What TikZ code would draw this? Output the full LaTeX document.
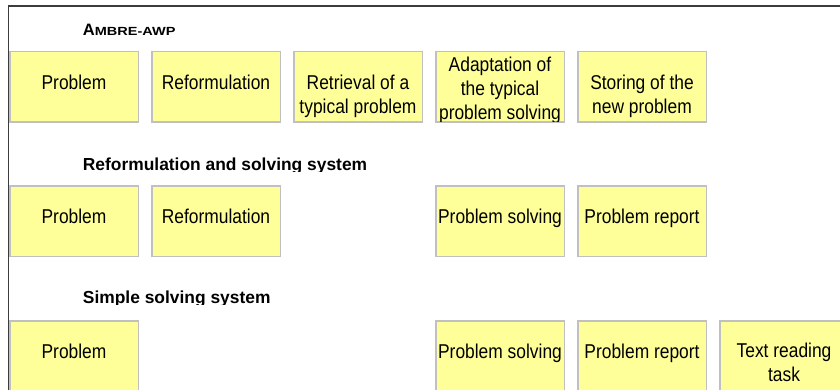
\documentclass[tikz,border=0pt]{standalone}
\usepackage{fontspec}
\setmainfont{Liberation Sans}
\newfontfamily\boxfont[FakeStretch=0.87]{Liberation Sans}
\newfontfamily\scwide[FakeStretch=1.23]{Liberation Sans}
\definecolor{boxfill}{HTML}{FFFF99}
\definecolor{boxline}{HTML}{C0C0C0}
\definecolor{frameline}{HTML}{3C3C3C}
\begin{document}
\begin{tikzpicture}[x=1pt,y=-1pt,
  stepbox/.style={draw=boxline, fill=boxfill, line width=1.5pt,
    minimum width=128.5pt, minimum height=70.5pt, inner sep=0pt,
    outer sep=0pt, anchor=north west},
  boxtext/.style={font=\boxfont\fontsize{20}{24}\selectfont, text=black,
    align=center, inner sep=0pt, anchor=north},
  titletext/.style={font=\bfseries\fontsize{17.4}{20}\selectfont, text=black,
    inner sep=0pt, anchor=base west},
  framestyle/.style={draw=frameline, line width=1.5pt}]
\useasboundingbox (0,0) rectangle (840,389);
\clip (0,0) rectangle (840,389);

% frame
\coordinate (fb) at (8.5,392);
\coordinate (fc) at (8.5,6);
\coordinate (fr) at (842,6);
\draw[framestyle] (fb) -- (fc) -- (fr);

% ---------- row 1 : AMBRE-AWP ----------
\node[titletext] (title1) at (82.7,35)
  {{\fontsize{16.5}{20}\selectfont A}{\scwide\bfseries\fontsize{11.8}{14}\selectfont MBRE-AWP}};

\node[stepbox] (a1) at (9.75,51.25) {};
\node[stepbox] (a2) at (151.75,51.25) {};
\node[stepbox] (a3) at (293.75,51.25) {};
\node[stepbox] (a4) at (435.75,51.25) {};
\node[stepbox] (a5) at (577.75,51.25) {};

\node[boxtext] (ta1) at ([yshift=-23.25pt]a1.north) {Problem};
\node[boxtext] (ta2) at ([yshift=-23.25pt]a2.north) {Reformulation};
\node[boxtext] (ta3) at ([yshift=-23.25pt]a3.north) {Retrieval of a\\typical problem};
\begin{scope}
  \clip ([xshift=0.75pt,yshift=-0.75pt]a4.north west) rectangle ([xshift=-0.75pt,yshift=0.75pt]a4.south east);
  \node[boxtext] (ta4) at ([yshift=-6pt]a4.north) {Adaptation of\\the typical\\problem solving};
\end{scope}
\node[boxtext] (ta5) at ([yshift=-23.25pt]a5.north) {Storing of the\\new problem};

% ---------- row 2 : Reformulation and solving system ----------
\begin{scope}
  \clip (0,130) rectangle (840,171.2);
  \node[titletext] (title2) at (82.7,170) {Reformulation and solving system};
\end{scope}

\node[stepbox] (b1) at (9.75,185.75) {};
\node[stepbox] (b2) at (151.75,185.75) {};
\node[stepbox] (b4) at (435.75,185.75) {};
\node[stepbox] (b5) at (577.75,185.75) {};

\node[boxtext] (tb1) at ([yshift=-23.25pt]b1.north) {Problem};
\node[boxtext] (tb2) at ([yshift=-23.25pt]b2.north) {Reformulation};
\node[boxtext] (tb4) at ([yshift=-23.25pt]b4.north) {Problem solving};
\node[boxtext] (tb5) at ([yshift=-23.25pt]b5.north) {Problem report};

% ---------- row 3 : Simple solving system ----------
\begin{scope}
  \clip (0,270) rectangle (840,304.5);
  \node[titletext] (title3) at (82.7,303.3) {Simple solving system};
\end{scope}

\node[stepbox] (c1) at (9.75,320.75) {};
\node[stepbox] (c4) at (435.75,320.75) {};
\node[stepbox] (c5) at (577.75,320.75) {};
\node[stepbox] (c6) at (719.75,320.75) {};

\node[boxtext] (tc1) at ([yshift=-23.25pt]c1.north) {Problem};
\node[boxtext] (tc4) at ([yshift=-23.25pt]c4.north) {Problem solving};
\node[boxtext] (tc5) at ([yshift=-23.25pt]c5.north) {Problem report};
\node[boxtext] (tc6) at ([yshift=-22pt]c6.north) {Text reading\\task};
\end{tikzpicture}
\end{document}
